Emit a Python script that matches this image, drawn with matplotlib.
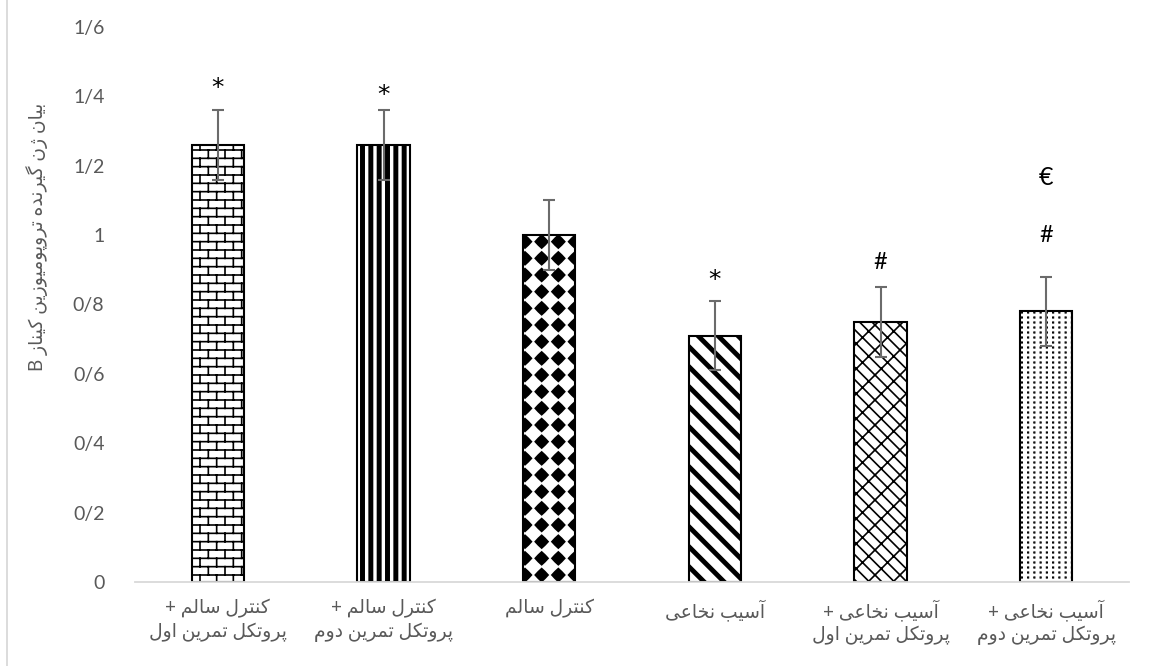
import warnings

import numpy as np
import matplotlib
matplotlib.use("Agg")
import matplotlib.pyplot as plt
from matplotlib import hatch as mhatch
from matplotlib.lines import Line2D
from matplotlib.path import Path
from matplotlib.ticker import FuncFormatter

warnings.filterwarnings("ignore")

plt.rcParams["font.family"] = ["Lato", "DejaVu Sans"]
plt.rcParams["hatch.linewidth"] = 1.2

# data
groups = [
    "کنترل سالم +\nپروتکل تمرین اول",
    "کنترل سالم +\nپروتکل تمرین دوم",
    "کنترل سالم",
    "آسیب نخاعی",
    "آسیب نخاعی +\nپروتکل تمرین اول",
    "آسیب نخاعی +\nپروتکل تمرین دوم",
]
means = [1.26, 1.26, 1.0, 0.71, 0.75, 0.78]
errors = [0.10, 0.10, 0.10, 0.10, 0.10, 0.10]
marks = ["*", "*", "", "*", "#", "#"]
mark_levels = [1.425, 1.405, 0.0, 0.87, 0.92, 1.0]
extra_mark = "€"
extra_level = 1.165
y_title = "بیان ژن گیرنده تروپومیوزین کیناز B"
hatches = ["B", "V", "D", "S", "W", "P"]

# --- minimal persian shaping (presentation forms, right-to-left) -----------
FORMS = {
    "ا": ("\uFE8D", "\uFE8E"),
    "آ": ("\uFE81", "\uFE82"),
    "ب": ("\uFE8F", "\uFE90", "\uFE91", "\uFE92"),
    "پ": ("\uFB56", "\uFB57", "\uFB58", "\uFB59"),
    "ت": ("\uFE95", "\uFE96", "\uFE97", "\uFE98"),
    "خ": ("\uFEA5", "\uFEA6", "\uFEA7", "\uFEA8"),
    "د": ("\uFEA9", "\uFEAA"),
    "ر": ("\uFEAD", "\uFEAE"),
    "ز": ("\uFEAF", "\uFEB0"),
    "ژ": ("\uFB8A", "\uFB8B"),
    "س": ("\uFEB1", "\uFEB2", "\uFEB3", "\uFEB4"),
    "ع": ("\uFEC9", "\uFECA", "\uFECB", "\uFECC"),
    "ک": ("\uFB8E", "\uFB8F", "\uFB90", "\uFB91"),
    "گ": ("\uFB92", "\uFB93", "\uFB94", "\uFB95"),
    "ل": ("\uFEDD", "\uFEDE", "\uFEDF", "\uFEE0"),
    "م": ("\uFEE1", "\uFEE2", "\uFEE3", "\uFEE4"),
    "ن": ("\uFEE5", "\uFEE6", "\uFEE7", "\uFEE8"),
    "ه": ("\uFEE9", "\uFEEA", "\uFEEB", "\uFEEC"),
    "و": ("\uFEED", "\uFEEE"),
    "ی": ("\uFBFC", "\uFBFD", "\uFBFE", "\uFBFF"),
}


def shape_word(word):
    out = []
    for i, ch in enumerate(word):
        forms = FORMS.get(ch)
        if forms is None:
            out.append(ch)
            continue
        prev = word[i - 1] if i > 0 else ""
        nxt = word[i + 1] if i + 1 < len(word) else ""
        join_prev = prev in FORMS and len(FORMS[prev]) == 4
        join_next = nxt in FORMS and len(forms) == 4
        if join_prev and join_next:
            out.append(forms[3])
        elif join_prev:
            out.append(forms[1])
        elif join_next:
            out.append(forms[2])
        else:
            out.append(forms[0])
    return "".join(reversed(out))


def persian(text):
    lines = []
    for line in text.split("\n"):
        words = line.split(" ")[::-1]
        lines.append(" ".join(shape_word(w) for w in words))
    return "\n".join(lines)


# --- custom hatch patterns --------------------------------------------------
MOVE, LINE, CLOSE = Path.MOVETO, Path.LINETO, Path.CLOSEPOLY


def seg(v, c, p0, p1):
    v += [p0, p1]
    c += [MOVE, LINE]


def poly(v, c, pts):
    v += list(pts) + [pts[0]]
    c += [MOVE] + [LINE] * (len(pts) - 1) + [CLOSE]


def brick(v, c):
    rows, cols = 12, 6
    for k in range(-1, rows + 1):
        y0, y1 = k / rows, (k + 1) / rows
        seg(v, c, (-0.1, y0), (1.1, y0))
        off = 0.5 / cols if k % 2 else 0.0
        for j in range(-1, cols + 2):
            x = j / cols + off
            seg(v, c, (x, y0), (x, y1))


def vstripes(v, c):
    n, w = 12, 0.033
    for j in range(-1, n + 1):
        x = (j + 0.5) / n
        poly(v, c, [(x - w / 2, -0.1), (x + w / 2, -0.1),
                    (x + w / 2, 1.1), (x - w / 2, 1.1)])


def diamonds(v, c):
    n, r = 6, 0.064
    m = 0.52 * r
    for j in range(-1, n + 1):
        for k in range(-1, n + 1):
            cx, cy = (j + 0.5) / n, (k + 0.5) / n
            poly(v, c, [(cx + r, cy), (cx + m, cy + m), (cx, cy + r),
                        (cx - m, cy + m), (cx - r, cy), (cx - m, cy - m),
                        (cx, cy - r), (cx + m, cy - m)])


def dstripes(v, c):
    n, w = 5, 0.045
    for k in range(-n - 1, 2 * n + 2):
        b = k / n
        poly(v, c, [(-0.5, b + 0.5), (1.5, b - 1.5),
                    (1.5, b + w - 1.5), (-0.5, b + w + 0.5)])


def weave(v, c):
    n = 8
    for k in range(-2, 2 * n + 2):
        b = k / n
        seg(v, c, (-0.5, b + 0.5), (1.5, b - 1.5))
        for m in range(-n - 2, 2 * n + 2):
            t = m / n + (0.5 / n if k % 2 else 0.0)
            x0, y0 = t, b - t
            if -0.2 < x0 < 1.2 and -0.2 < y0 < 1.2:
                seg(v, c, (x0, y0), (x0 + 0.5 / n, y0 + 0.5 / n))


def dots(v, c):
    nx, ny, s = 16, 20, 0.0025
    for j in range(-1, nx + 1):
        for k in range(-1, ny + 1):
            cx, cy = (j + 0.5) / nx, (k + 0.5) / ny
            poly(v, c, [(cx - s, cy - s), (cx + s, cy - s),
                        (cx + s, cy + s), (cx - s, cy + s)])


HATCH_BUILDERS = {"B": brick, "V": vstripes, "D": diamonds,
                  "S": dstripes, "W": weave, "P": dots}


class ChartHatch(mhatch.HatchPatternBase):
    def __init__(self, hatch, density):
        verts, codes = [], []
        for key, build in HATCH_BUILDERS.items():
            if key in hatch:
                build(verts, codes)
        self.verts = np.array(verts, dtype=float).reshape(-1, 2)
        self.codes = np.array(codes, dtype=Path.code_type)
        self.num_vertices = len(verts)

    def set_vertices_and_codes(self, vertices, codes):
        vertices[:] = self.verts
        codes[:] = self.codes


mhatch._hatch_types.append(ChartHatch)

# --- figure -----------------------------------------------------------------
fig = plt.figure(figsize=(11.53, 6.66), dpi=100, facecolor="white")
ax = fig.add_axes([135 / 1153, 84 / 666, 994 / 1153, 555 / 666])

x = np.arange(len(groups))
for xi, val, h in zip(x, means, hatches):
    ax.bar(xi, val, width=0.315, color="white", edgecolor="black",
           linewidth=1.5, hatch=h, zorder=2)

ax.errorbar(x, means, yerr=errors, fmt="none", ecolor="#6b6b6b",
            elinewidth=1.5, capsize=4, capthick=1.5, zorder=3)

for xi, mk, lvl in zip(x, marks, mark_levels):
    if mk == "*":
        ax.text(xi, lvl, mk, ha="center", va="center", fontsize=18,
                color="black", zorder=4, family="DejaVu Sans")
    elif mk:
        ax.text(xi, lvl, mk, ha="center", va="center", fontsize=17,
                color="black", zorder=4)
ax.text(x[-1], extra_level, extra_mark, ha="center", va="center",
        fontsize=18, color="black", zorder=4)

ax.set_xlim(-0.5, len(groups) - 0.5)
ax.set_ylim(0, 1.6)
ax.set_yticks(np.arange(0, 1.61, 0.2))
ax.yaxis.set_major_formatter(
    FuncFormatter(lambda v, p: f"{v:g}".replace(".", "/")))
ax.set_xticks(x)
ax.set_xticklabels([persian(g) for g in groups],
                   fontsize=13.5, color="#595959", linespacing=1.35)
ax.tick_params(axis="both", length=0, labelsize=14, labelcolor="#595959")
ax.tick_params(axis="x", pad=12, labelsize=13.5)
ax.tick_params(axis="y", pad=22)

for side in ("left", "top", "right"):
    ax.spines[side].set_visible(False)
ax.spines["bottom"].set_color("#d9d9d9")
ax.spines["bottom"].set_linewidth(1.3)

ax.set_ylabel(persian(y_title), fontsize=13.5, color="#595959")
ax.yaxis.set_label_coords(-0.0875, 0.622)

fig.add_artist(Line2D([7 / 1153, 7 / 1153], [0, 1], transform=fig.transFigure,
                      color="#d9d9d9", linewidth=1.3))

fig.savefig("out.png", dpi=100, facecolor="white")
